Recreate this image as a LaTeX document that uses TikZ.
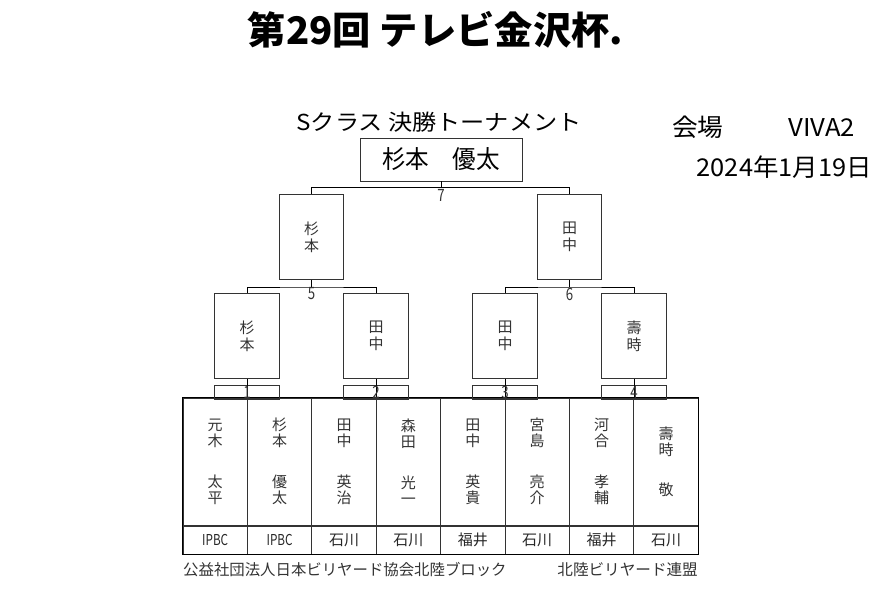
\documentclass[tikz,border=0pt]{standalone}
\usepackage{fontspec}
\usepackage{graphicx}
\newfontfamily\jp{Noto Sans CJK JP}
\newcommand\fsz[2]{\fontsize{#1}{#2}\selectfont}
\newcommand\narrow[1]{\scalebox{0.78}[1]{#1}}
\begin{document}
\begin{tikzpicture}[x=1pt,y=-1pt,
  box/.style={draw=black!80, line width=0.9pt, inner sep=0pt},
  col/.style={box, minimum width=64.4pt, minimum height=127pt, text=black!80, align=center, font={\jp\fsz{15}{16}}},
  club/.style={box, minimum width=64.4pt, minimum height=28pt, text=black!85, font={\jp\fsz{15}{16}}},
  mbox/.style={box, minimum width=64.4pt, minimum height=85pt, text=black!80, align=center, font={\jp\fsz{15}{17}}},
  numbox/.style={box, minimum width=64.4pt, minimum height=14.5pt},
  numlbl/.style={inner sep=0pt, text=black!80, font={\jp\fsz{17}{17}}},
  conn/.style={draw=black, line width=0.9pt},
  plain/.style={inner sep=0pt}]
\useasboundingbox (0,0) rectangle (880,611);

% headings
\node[plain, font={\jp\bfseries\fsz{38}{38}}] (title) at (435.5,30) {\resizebox{375pt}{\height}{第29回 テレビ金沢杯.}};
\node[plain, font={\jp\fsz{22}{22}}] (sub) at (439,122.5) {\resizebox{285pt}{\height}{Sクラス 決勝トーナメント}};
\node[plain, font={\jp\fsz{24.5}{24.5}}] (venue) at (763.5,127.5) {\resizebox{183pt}{\height}{会場\hspace{62pt}VIVA2}};
\node[plain, font={\jp\fsz{24.5}{24.5}}] (date) at (784.2,167.5) {\resizebox{175pt}{\height}{2024年1月19日}};

% final
\node[box, minimum width=162pt, minimum height=43pt, font={\jp\fsz{25}{25}}] (F) at (441,159.5) {\resizebox{118pt}{\height}{杉本　優太}};

% semifinals
\node[mbox] (S1) at (311.5,237) {杉\\本};
\node[mbox] (S2) at (569.5,237) {田\\中};

% quarterfinals
\node[mbox] (Q1) at (247,335.8) {杉\\本};
\node[mbox] (Q2) at (376,335.8) {田\\中};
\node[mbox] (Q3) at (505,335.8) {田\\中};
\node[mbox] (Q4) at (634,335.8) {壽\\時};

% players
\node[col] (P1) at (215.2,461.5) {元\\木\\[25pt]太\\平};
\node[col] (P2) at (279.6,461.5) {杉\\本\\[25pt]優\\太};
\node[col] (P3) at (344.0,461.5) {田\\中\\[25pt]英\\治};
\node[col] (P4) at (408.4,461.5) {森\\田\\[25pt]光\\一};
\node[col] (P5) at (472.8,461.5) {田\\中\\[25pt]英\\貴};
\node[col] (P6) at (537.2,461.5) {宮\\島\\[25pt]亮\\介};
\node[col] (P7) at (601.6,461.5) {河\\合\\[25pt]孝\\輔};
\node[col] (P8) at (666.0,461.5) {壽\\時\\[24pt]敬};

% clubs
\node[club] (C1) at (215.2,540) {\narrow{IPBC}};
\node[club] (C2) at (279.6,540) {\narrow{IPBC}};
\node[club] (C3) at (344.0,540) {石川};
\node[club] (C4) at (408.4,540) {石川};
\node[club] (C5) at (472.8,540) {福井};
\node[club] (C6) at (537.2,540) {石川};
\node[club] (C7) at (601.6,540) {福井};
\node[club] (C8) at (666.0,540) {石川};
\draw[conn] (P1.north west) -- (P8.north east);
\draw[conn] (C1.south west) rectangle (P8.north east);

% match number boxes
\node[numbox] (N1) at (247,392.3) {};
\node[numbox] (N2) at (376,392.3) {};
\node[numbox] (N3) at (505,392.3) {};
\node[numbox] (N4) at (634,392.3) {};

% connectors
\coordinate (j7) at (441,187.5);
\coordinate (j5) at (311.5,287);
\coordinate (j6) at (569.5,287);
\draw[conn] (F.south) -- (j7);
\draw[conn] (S1.north) |- (j7) -| (S2.north);
\draw[conn] (S1.south) -- (j5);
\draw[conn] (Q1.north) |- (j5) -| (Q2.north);
\draw[conn] (S2.south) -- (j6);
\draw[conn] (Q3.north) |- (j6) -| (Q4.north);
\draw[conn] (Q1.south) -- (Q1.south |- P1.north);
\draw[conn] (Q2.south) -- (Q2.south |- P3.north);
\draw[conn] (Q3.south) -- (Q3.south |- P5.north);
\draw[conn] (Q4.south) -- (Q4.south |- P7.north);

% match numbers
\node[numlbl] (l7) at (441,195) {\narrow{7}};
\node[numlbl] (l5) at (311.5,294) {\narrow{5}};
\node[numlbl] (l6) at (569.5,294) {\narrow{6}};
\node[numlbl] (l1) at (N1) {\narrow{1}};
\node[numlbl] (l2) at (N2) {\narrow{2}};
\node[numlbl] (l3) at (N3) {\narrow{3}};
\node[numlbl] (l4) at (N4) {\narrow{4}};

% footer
\node[plain, anchor=west, text=black!80, font={\jp\fsz{15.4}{15.4}}] (ft1) at (183,570) {公益社団法人日本ビリヤード協会北陸ブロック};
\node[plain, anchor=east, text=black!80, font={\jp\fsz{15.6}{15.6}}] (ft2) at (698,570) {北陸ビリヤード連盟};
\end{tikzpicture}
\end{document}
